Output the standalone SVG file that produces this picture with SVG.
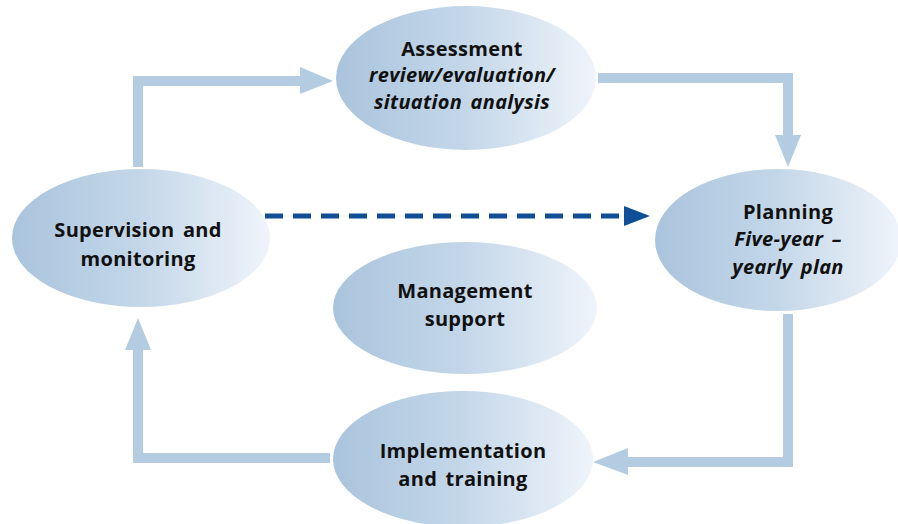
<svg xmlns="http://www.w3.org/2000/svg" width="898" height="524" viewBox="0 0 898 524">
<defs>
<linearGradient id="g" x1="0" y1="0" x2="1" y2="0">
<stop offset="0" stop-color="#aac4dd"/>
<stop offset="0.5" stop-color="#c4d7e9"/>
<stop offset="1" stop-color="#eff4fa"/>
</linearGradient>
<style>
.n{fill:url(#g)}
.t{font-family:"Open Sans","DejaVu Sans",sans-serif;font-weight:bold;font-size:20px;letter-spacing:0.3px;word-spacing:3px;fill:#111;text-anchor:middle}
.i{font-style:italic}
.c{fill:none;stroke:#b3cce2;stroke-width:10}
.h{fill:#b3cce2}
.d{fill:none;stroke:#0f4f98;stroke-width:5;stroke-dasharray:18 10}
</style>
</defs>
<rect width="898" height="524" fill="#fff"/>
<g id="connectors">
<path class="c" d="M138 167 V81 H302"/>
<polygon class="h" points="300,67 333,81 300,94"/>
<path class="c" d="M598 78 H788 V137"/>
<polygon class="h" points="775,135 788,167 801,135"/>
<path class="c" d="M788 314 V462 H626"/>
<polygon class="h" points="628,448 593,462 628,475"/>
<path class="c" d="M330 458 H138 V348"/>
<polygon class="h" points="125,350 138,318 151,350"/>
<path class="d" d="M265 216 H628"/>
<polygon fill="#0f4f98" points="624,206 650,216 624,226"/>
</g>
<g id="assessment">
<ellipse class="n" cx="466" cy="78" rx="130" ry="72"/>
<text class="t" x="462" y="56">Assessment</text>
<text class="t i" x="462" y="82">review/evaluation/</text>
<text class="t i" x="462" y="109">situation analysis</text>
</g>
<g id="supervision">
<ellipse class="n" cx="141" cy="238" rx="129" ry="69"/>
<text class="t" x="138" y="237">Supervision and</text>
<text class="t" x="138" y="266">monitoring</text>
</g>
<g id="planning">
<ellipse class="n" cx="778" cy="240" rx="123" ry="71"/>
<text class="t" x="788" y="219">Planning</text>
<text class="t i" x="788" y="246">Five-year –</text>
<text class="t i" x="788" y="274">yearly plan</text>
</g>
<g id="management">
<ellipse class="n" cx="465" cy="308" rx="132" ry="66"/>
<text class="t" x="465" y="298">Management</text>
<text class="t" x="465" y="326">support</text>
</g>
<g id="implementation">
<ellipse class="n" cx="463" cy="459" rx="130" ry="68"/>
<text class="t" x="463" y="458">Implementation</text>
<text class="t" x="463" y="486">and training</text>
</g>
</svg>
